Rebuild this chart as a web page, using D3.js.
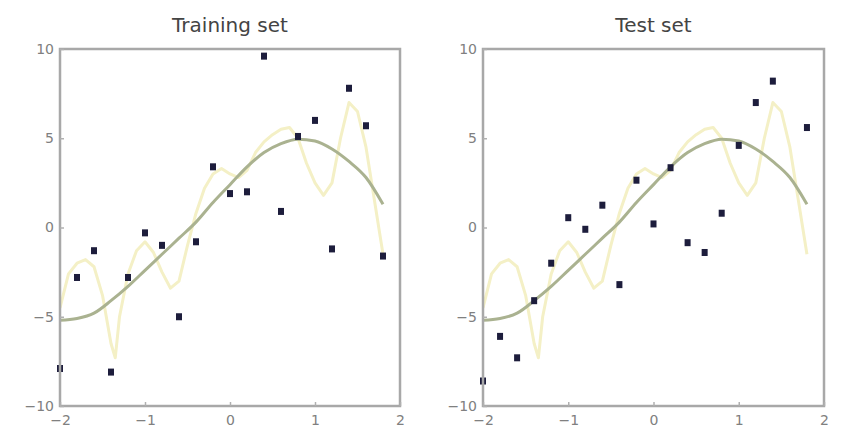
<!DOCTYPE html>
<html>
<head>
<meta charset="utf-8">
<script src="https://cdn.jsdelivr.net/npm/d3@7"></script>
<style>
  body { margin: 0; background: #fff; }
  svg { display: block; }
  .tick text { font-family: "DejaVu Sans", sans-serif; font-size: 14px; fill: #808080; }
  .title { font-family: "DejaVu Sans", sans-serif; font-size: 20px; fill: #444; }
</style>
</head>
<body>
<svg id="chart" width="847" height="446"></svg>
<script>
// data
const xTrain = [-2.0, -1.8, -1.6, -1.4, -1.2, -1.0, -0.8, -0.6, -0.4, -0.2,
                0.0, 0.2, 0.4, 0.6, 0.8, 1.0, 1.2, 1.4, 1.6, 1.8];
const yTrain = [-7.9, -2.8, -1.3, -8.1, -2.8, -0.3, -1.0, -5.0, -0.8, 3.4,
                1.9, 2.0, 9.6, 0.9, 5.1, 6.0, -1.2, 7.8, 5.7, -1.6];

const xTest = [-2.0, -1.8, -1.6, -1.4, -1.2, -1.0, -0.8, -0.6, -0.4, -0.2,
               0.0, 0.2, 0.4, 0.6, 0.8, 1.0, 1.2, 1.4, 1.8];
const yTest = [-8.6, -6.1, -7.3, -4.1, -2.0, 0.55, -0.1, 1.25, -3.2, 2.65,
               0.2, 3.35, -0.85, -1.4, 0.8, 4.6, 7.0, 8.2, 5.6];

// smooth fit
const smoothX = [-2.0, -1.8, -1.6, -1.4, -1.2, -1.0, -0.8, -0.6, -0.4, -0.2,
                 0.0, 0.2, 0.4, 0.6, 0.8, 1.0, 1.2, 1.4, 1.6, 1.8];
const smoothY = [-5.2, -5.1, -4.8, -4.1, -3.3, -2.4, -1.5, -0.6, 0.3, 1.4,
                 2.4, 3.4, 4.2, 4.7, 4.95, 4.85, 4.4, 3.7, 2.8, 1.3];

// overfitted wiggly fit
const wigglyX = [-2.0, -1.9, -1.8, -1.7, -1.6, -1.5, -1.4, -1.35, -1.3, -1.2, -1.1,
                 -1.0, -0.9, -0.8, -0.7, -0.6, -0.5, -0.4, -0.3, -0.2, -0.1,
                 0.0, 0.1, 0.2, 0.3, 0.4, 0.5, 0.6, 0.7, 0.8, 0.9,
                 1.0, 1.1, 1.2, 1.3, 1.4, 1.5, 1.6, 1.7, 1.8];
const wigglyY = [-4.5, -2.6, -2.0, -1.8, -2.2, -3.8, -6.5, -7.3, -5.0, -2.6, -1.3,
                 -0.8, -1.4, -2.5, -3.4, -3.0, -1.0, 0.8, 2.2, 3.0, 3.3,
                 3.0, 2.8, 3.2, 4.2, 4.8, 5.2, 5.5, 5.6, 5.0, 3.6,
                 2.5, 1.8, 2.5, 5.0, 7.0, 6.5, 4.5, 1.5, -1.5];

const xTicks = [-2, -1, 0, 1, 2];
const yTicks = [-10, -5, 0, 5, 10];
const titles = ["Training set", "Test set"];

const svg = d3.select("#chart");

const panels = [
  { title: titles[0], xs: xTrain, ys: yTrain, x0: 60, x1: 400 },
  { title: titles[1], xs: xTest, ys: yTest, x0: 483, x1: 824 }
];
const plotTop = 49, plotBottom = 406;

panels.forEach(p => {
  const x = d3.scaleLinear().domain([-2, 2]).range([p.x0, p.x1]);
  const y = d3.scaleLinear().domain([-10, 10]).range([plotBottom, plotTop]);
  const g = svg.append("g");

  const clipId = "clip" + p.x0;
  g.append("clipPath").attr("id", clipId)
    .append("rect")
    .attr("x", p.x0).attr("y", plotTop)
    .attr("width", p.x1 - p.x0).attr("height", plotBottom - plotTop);

  const line = d3.line().x(d => x(d[0])).y(d => y(d[1]));

  g.append("path")
    .datum(d3.zip(wigglyX, wigglyY))
    .attr("d", line)
    .attr("fill", "none")
    .attr("stroke", "#f4f0c6")
    .attr("stroke-width", 3)
    .attr("stroke-linejoin", "round")
    .attr("clip-path", `url(#${clipId})`);

  g.append("path")
    .datum(d3.zip(smoothX, smoothY))
    .attr("d", d3.line().curve(d3.curveMonotoneX).x(d => x(d[0])).y(d => y(d[1])))
    .attr("fill", "none")
    .attr("stroke", "#aab290")
    .attr("stroke-width", 3);

  g.selectAll("rect.pt")
    .data(d3.zip(p.xs, p.ys))
    .join("rect")
    .attr("class", "pt")
    .attr("x", d => x(d[0]) - 3)
    .attr("y", d => y(d[1]) - 3.5)
    .attr("width", 6)
    .attr("height", 7)
    .attr("fill", "#1d1d3c");

  // box
  g.append("rect")
    .attr("x", p.x0).attr("y", plotTop)
    .attr("width", p.x1 - p.x0).attr("height", plotBottom - plotTop)
    .attr("fill", "none")
    .attr("stroke", "#a8a8a8")
    .attr("stroke-width", 2.5);

  const xAxis = g.append("g")
    .attr("transform", `translate(0,${plotBottom})`)
    .call(d3.axisBottom(x).tickValues(xTicks).tickSize(-4).tickPadding(9).tickFormat(d3.format("d")));
  const yAxis = g.append("g")
    .attr("transform", `translate(${p.x0},0)`)
    .call(d3.axisLeft(y).tickValues(yTicks).tickSize(-4).tickPadding(6).tickFormat(d3.format("d")));
  [xAxis, yAxis].forEach(a => {
    a.select(".domain").remove();
    a.selectAll(".tick line").attr("stroke", "#b0b0b0").attr("stroke-width", 1.5);
  });

  g.append("text")
    .attr("class", "title")
    .attr("x", (p.x0 + p.x1) / 2)
    .attr("y", 32)
    .attr("text-anchor", "middle")
    .text(p.title);
});
</script>
</body>
</html>
